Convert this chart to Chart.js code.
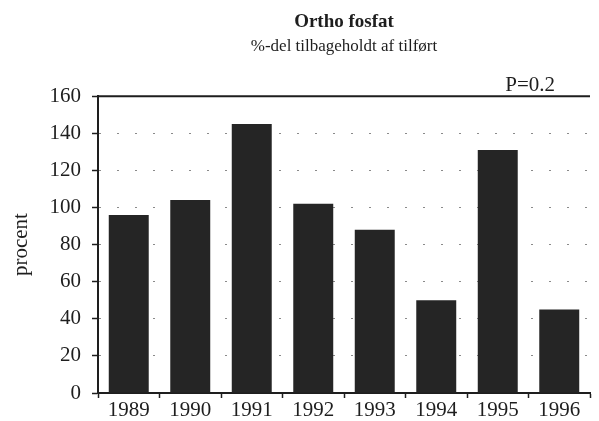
<!DOCTYPE html>
<html>
<head>
<meta charset="utf-8">
<script src="https://cdn.jsdelivr.net/npm/chart.js@4"></script>
<style>
  html, body { margin: 0; padding: 0; background: #fff; }
  #wrap { width: 599px; height: 421px; }
</style>
</head>
<body>
<div id="wrap"><canvas id="chart" width="599" height="421"></canvas></div>
<script>
  // Data
  const years = ['1989', '1990', '1991', '1992', '1993', '1994', '1995', '1996'];
  const retained = [96, 104, 145, 102, 88, 50, 131, 45];
  const yTicks = [0, 20, 40, 60, 80, 100, 120, 140, 160];

  const serif = '"Liberation Serif", "DejaVu Serif", serif';
  const ink = '#1e1e1e';

  // topkant + P-tekst
  const frame = {
    id: 'frame',
    afterDraw(chart) {
      const { ctx, chartArea } = chart;
      ctx.save();
      ctx.strokeStyle = ink;
      ctx.lineWidth = 2;
      ctx.beginPath();
      ctx.moveTo(chartArea.left, chartArea.top);
      ctx.lineTo(chartArea.right, chartArea.top);
      ctx.stroke();
      ctx.fillStyle = ink;
      ctx.font = '21px ' + serif;
      ctx.textAlign = 'right';
      ctx.textBaseline = 'alphabetic';
      ctx.fillText('P=0.2', chartArea.right - 35, chartArea.top - 5);
      ctx.restore();
    }
  };

  new Chart(document.getElementById('chart'), {
    type: 'bar',
    data: {
      labels: years,
      datasets: [{
        label: 'procent',
        data: retained,
        backgroundColor: '#252525',
        borderWidth: 0,
        categoryPercentage: 1,
        barPercentage: 0.65,
      }],
    },
    options: {
      responsive: false,
      animation: false,
      layout: { padding: { left: 0, right: 9, top: 0, bottom: 0 } },
      plugins: {
        legend: { display: false },
        tooltip: { enabled: false },
        title: {
          display: true,
          text: 'Ortho fosfat',
          fullSize: false,
          color: ink,
          font: { family: serif, size: 19, weight: 'bold', lineHeight: 1.2 },
          padding: { top: 11, bottom: 0 },
        },
        subtitle: {
          display: true,
          text: '%-del tilbageholdt af tilført',
          fullSize: false,
          color: ink,
          font: { family: serif, size: 17, lineHeight: 1.2 },
          padding: { top: 3, bottom: 39 },
        },
      },
      scales: {
        x: {
          grid: {
            offset: true,
            drawOnChartArea: false,
            tickLength: 5,
            tickColor: ink,
            tickWidth: 1.5,
          },
          border: { color: ink, width: 2 },
          ticks: {
            color: ink,
            padding: 0,
            maxRotation: 0,
            font: { family: serif, size: 21 },
          },
          afterFit: s => { s.height = 28; },
        },
        y: {
          min: 0,
          max: 160,
          afterBuildTicks: s => { s.ticks = yTicks.map(v => ({ value: v })); },
          grid: {
            color: ctx => (ctx.tick && (ctx.tick.value === 0 || ctx.tick.value === 160)) ? 'rgba(0,0,0,0)' : '#8a8a8a',
            lineWidth: 1,
            tickLength: 6,
            tickColor: ink,
            tickWidth: 1.5,
            tickBorderDash: [],
          },
          border: { color: ink, width: 2, dash: [2, 16] },
          ticks: {
            color: ink,
            padding: 11,
            font: { family: serif, size: 21 },
          },
          title: {
            display: true,
            text: 'procent',
            color: ink,
            font: { family: serif, size: 21 },
            padding: { top: 9, bottom: 0 },
          },
          afterFit: s => { s.width = 98; },
        },
      },
    },
    plugins: [frame],
  });
</script>
</body>
</html>
